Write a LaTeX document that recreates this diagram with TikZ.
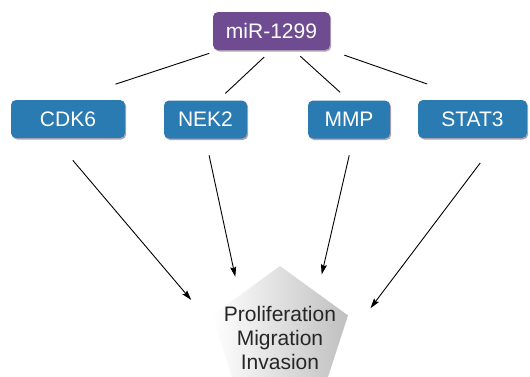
\documentclass[tikz,border=0pt]{standalone}
\usepackage{fontspec}
\setmainfont{Liberation Sans}
\usetikzlibrary{arrows.meta, shapes.geometric, shadows}

\begin{document}
\begin{tikzpicture}[x=1pt, y=-1pt]
    % Define styles for the boxes, the links and the arrows
    \tikzset{
        b_gene/.style={rounded corners=5pt, fill={rgb,255:red,42;green,123;blue,178}, text=white,
            font=\fontsize{21}{24}\selectfont, minimum height=38pt, inner sep=0pt,
            drop shadow={shadow xshift=1.2pt, shadow yshift=-1.5pt, fill={rgb,255:red,150;green,125;blue,145}, opacity=0.7}},
        b_mirna/.style={b_gene, fill={rgb,255:red,111;green,76;blue,145}},
        link/.style={line width=0.9pt},
        arr/.style={line width=0.9pt, -{Stealth[length=10pt, width=6pt, inset=1.5pt]}}
    }
    \useasboundingbox (0,0) rectangle (530,376);
    \clip (0,0) rectangle (530,376);

    % microRNA on top
    \node[b_mirna, minimum width=117pt] (mir) at (271.5,31) {miR-1299};

    % Target genes
    \node[b_gene, minimum width=114pt] (cdk6) at (68,119) {CDK6};
    \node[b_gene, minimum width=83pt] (nek2) at (205.5,119.5) {NEK2};
    \node[b_gene, minimum width=82pt] (mmp) at (349,119.5) {MMP};
    \node[b_gene, minimum width=109pt] (stat3) at (472.5,119) {STAT3};

    % Outcome pentagon
    \node[regular polygon, regular polygon sides=5, minimum size=143pt, inner sep=0pt,
        left color=white, right color=black!25] (pent) at (280,337.5) {};
    \node[align=center, font=\fontsize{21}{24}\selectfont, text=black!85] (fate) at (pent.center) {Proliferation\\Migration\\Invasion};

    % Links from miR-1299 to the genes
    \draw[link, shorten <=10pt, shorten >=50pt] (mir.200) -- (cdk6.north);
    \draw[link, shorten <=10pt, shorten >=10pt] (mir.south) -- (nek2.57);
    \draw[link, shorten <=9pt, shorten >=12pt] (mir.-41) -- (mmp.north);
    \draw[link, shorten <=15pt, shorten >=48pt] (mir.south east) -- (stat3.north);

    % Arrows from the genes to the outcome
    \draw[arr, shorten <=29pt, shorten >=39pt] (cdk6.-126) -- (pent.173);
    \draw[arr, shorten <=17pt, shorten >=19pt] (nek2.south) -- (pent.134);
    \draw[arr, shorten <=17pt, shorten >=19pt] (mmp.-78) -- (pent.50);
    \draw[arr, shorten <=31pt, shorten >=58pt] (stat3.-36) -- (pent.-17);
\end{tikzpicture}
\end{document}
